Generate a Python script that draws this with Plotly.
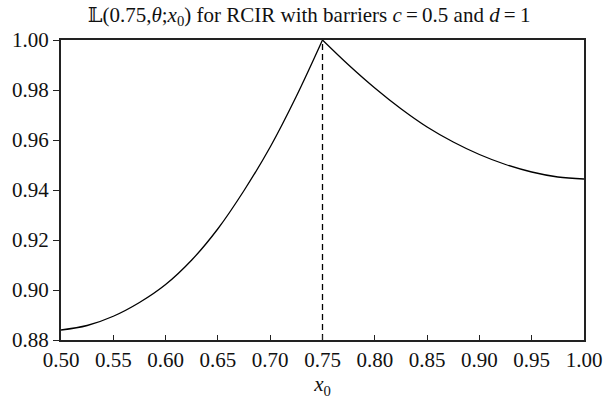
import plotly.graph_objects as go

# Data
x_left = [0.500, 0.525, 0.550, 0.575, 0.600, 0.625, 0.650, 0.675, 0.700, 0.725, 0.750]
y_left = [0.8840, 0.8858, 0.8895, 0.8950, 0.9022, 0.9120, 0.9245, 0.9398, 0.9572, 0.9775, 1.0000]
x_right = [0.750, 0.775, 0.800, 0.825, 0.850, 0.875, 0.900, 0.925, 0.950, 0.975, 1.000]
y_right = [1.0000, 0.9900, 0.9808, 0.9725, 0.9652, 0.9592, 0.9542, 0.9502, 0.9472, 0.9452, 0.9444]
x_mark = [0.75, 0.75]
y_mark = [0.88, 1.00]

x_ticks = [0.50, 0.55, 0.60, 0.65, 0.70, 0.75, 0.80, 0.85, 0.90, 0.95, 1.00]
y_ticks = [0.88, 0.90, 0.92, 0.94, 0.96, 0.98, 1.00]

FONT = "Liberation Serif, Times New Roman, DejaVu Serif, serif"

fig = go.Figure()
fig.add_trace(go.Scatter(x=x_mark, y=y_mark, mode="lines",
                         line=dict(color="black", width=1.3, dash="6px,4px"),
                         showlegend=False, hoverinfo="skip"))
fig.add_trace(go.Scatter(x=x_left, y=y_left, mode="lines",
                         line=dict(color="black", width=1.3, shape="spline", smoothing=1.0),
                         showlegend=False))
fig.add_trace(go.Scatter(x=x_right, y=y_right, mode="lines",
                         line=dict(color="black", width=1.3, shape="spline", smoothing=1.0),
                         showlegend=False))

fig.update_layout(
    width=606, height=399,
    margin=dict(l=61, r=22, t=40, b=59),
    paper_bgcolor="white", plot_bgcolor="white",
    font=dict(family=FONT, size=21, color="#111"),
    title=dict(
        text="\U0001D543(0.75,<i>θ</i>;<i>x</i><sub>0</sub>) for RCIR with barriers <i>c</i>\u2009=\u20090.5 and <i>d</i>\u2009=\u20091",
        x=0.51, xanchor="center", y=0.982, yanchor="top",
        font=dict(family=FONT, size=21, color="#111"),
    ),
    xaxis=dict(
        range=[0.5, 1.0], tickvals=x_ticks, ticktext=[f"{v:.2f}" for v in x_ticks],
        showline=True, linecolor="#222", linewidth=2, mirror=True,
        ticks="inside", ticklen=5, tickwidth=1, tickcolor="#222",
        showgrid=False, zeroline=False, automargin=False,
        title=dict(text="<i>x</i><sub>0</sub>", standoff=3, font=dict(family=FONT, size=21)),
    ),
    yaxis=dict(
        range=[0.88, 1.0], tickvals=y_ticks, ticktext=[f"{v:.2f}" for v in y_ticks],
        showline=True, linecolor="#222", linewidth=2, mirror=True,
        ticks="outside", ticklen=6, tickwidth=1, tickcolor="#222",
        showgrid=False, zeroline=False, automargin=False,
    ),
)

fig.write_html("out.html", config={"displayModeBar": False},
               post_script="document.body.style.margin='0';document.body.style.overflow='hidden';")
